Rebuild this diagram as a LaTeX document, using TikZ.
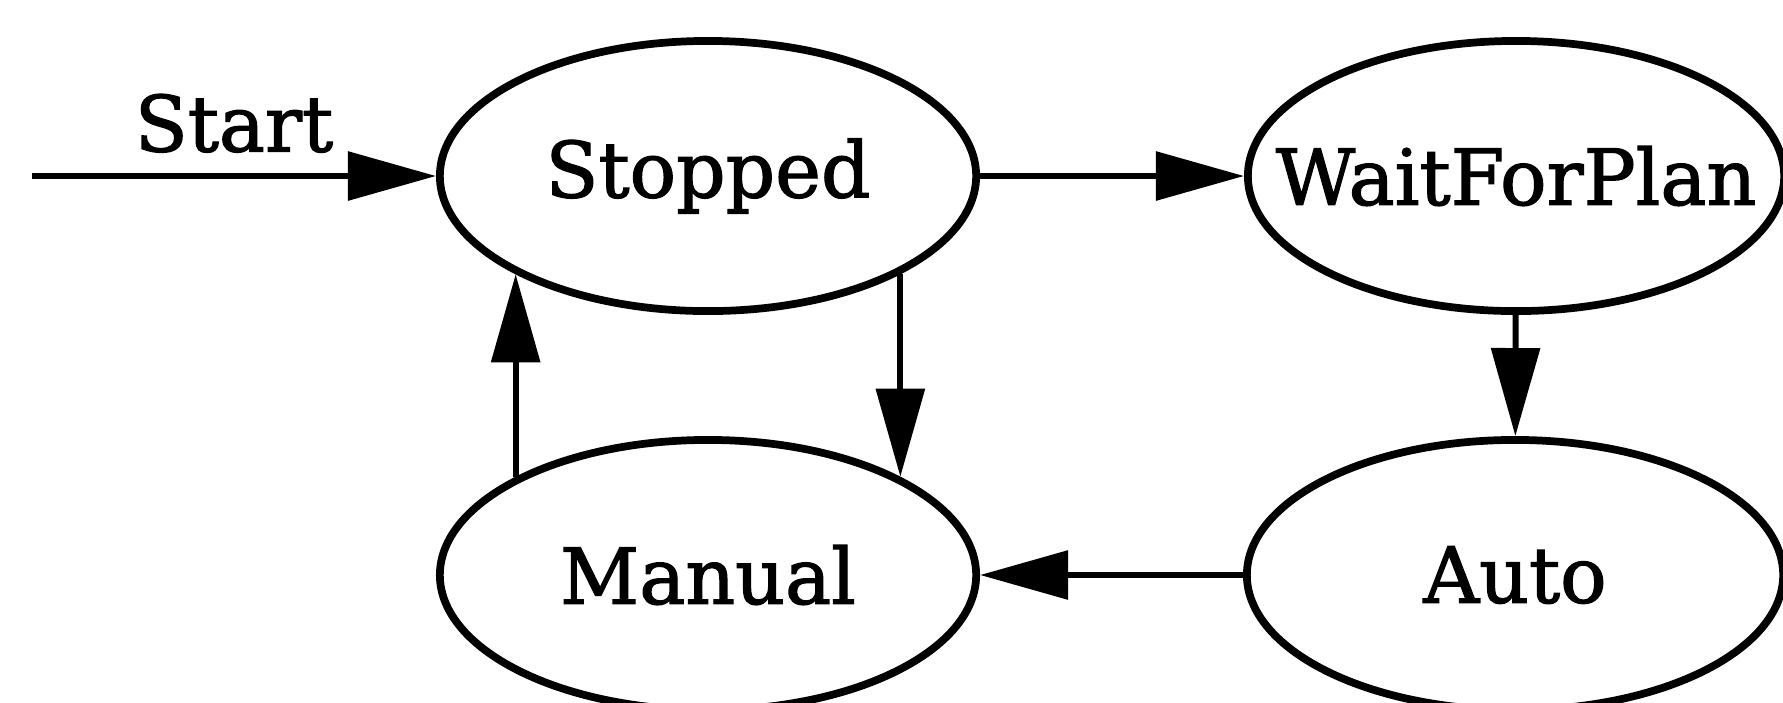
\documentclass[tikz,border=0pt]{standalone}
\usepackage{fontspec}
\setmainfont{DejaVu Serif}[FakeBold=1.6]
\usetikzlibrary{shapes.geometric,arrows.meta}

\begin{document}
\begin{tikzpicture}[x=0.01cm,y=-0.01cm,
    state/.style={ellipse,draw,line width=2.2pt,inner sep=0pt,
      minimum width=5.36cm,minimum height=2.7cm},
    trans/.style={line width=1.7pt,-{Triangle[length=8.8mm,width=4.8mm]}},
    font=\fontsize{22}{26}\selectfont]
  \clip (0,0) rectangle (1783,702);
   \coordinate (Entry) at (32,176);
  \node[state,label=center:Stopped] (Stopped) at (708,176) {};
  \node[state,label=center:WaitForPlan] (Wait) at (1516,176) {};
  \node[state,label=center:Manual] (Manual) at (708,575) {};
  \node[state,label=center:Auto] (Auto) at (1515,575) {};
  \draw [trans] (Entry) -- (Stopped) node [midway,above=2.5pt] {Start};
  \draw [trans] (Stopped) -- (Wait);
     \draw [trans] (Wait) -- (Auto);
  \draw [trans] (Auto) -- (Manual);
  \draw [trans] (Stopped.south east) -- (Manual.north east);
     \draw [trans] (Manual.north west) -- (Stopped.south west);
 \end{tikzpicture}
\end{document}
